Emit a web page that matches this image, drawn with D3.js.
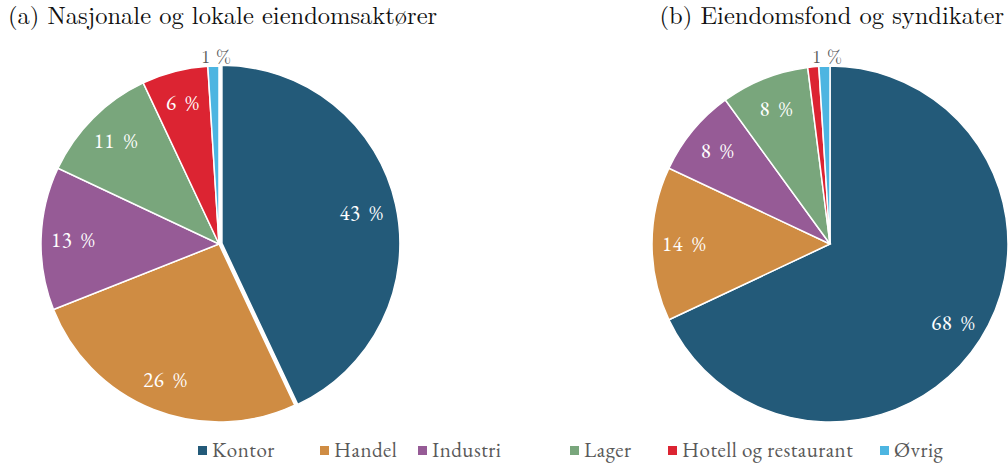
<!DOCTYPE html>
<html>
<head>
<meta charset="utf-8">
<script src="https://cdn.jsdelivr.net/npm/d3@7"></script>
<style>
  body { margin: 0; background: #fff; }
</style>
</head>
<body>
<svg id="chart" width="1008" height="467"></svg>
<script>
const categories = ["Kontor", "Handel", "Industri", "Lager", "Hotell og restaurant", "Øvrig"];
const colors = ["#235a79", "#cf8c43", "#965b96", "#79a67c", "#dc2432", "#4db5e1"];
const valuesA = [43, 26, 13, 11, 6, 1];
const valuesB = [68, 14, 8, 8, 1, 1];
// which slices carry a data label
const showLabelA = [true, true, true, true, true, true];
const showLabelB = [true, true, true, true, false, true];
const titleA = "(a) Nasjonale og lokale eiendomsaktører";
const titleB = "(b) Eiendomsfond og syndikater";

// font lists with fallbacks did not resolve in the renderer, so single names only
const TITLE_FONT = '"Latin Modern Roman"';
const BODY_FONT = '"EB Garamond"';

const svg = d3.select("#chart");
const radius = 178;
const cy = 244;

// legend x positions
const legendX = [198, 320, 418, 570, 668, 880];

function drawPie(values, showLabel, cx, explodeFirst) {
  const g = svg.append("g").attr("transform", `translate(${cx},${cy})`);
  const pie = d3.pie().sort(null).value(d => d);
  const arcs = pie(values);
  const arc = d3.arc().innerRadius(0).outerRadius(radius);
  const labelArc = d3.arc().innerRadius(radius * 0.82).outerRadius(radius * 0.82);
  const outerArc = d3.arc().innerRadius(radius + 9).outerRadius(radius + 9);

  g.selectAll("path")
    .data(arcs)
    .enter().append("path")
    .attr("d", arc)
    .attr("fill", (d, i) => colors[i])
    .attr("stroke", "#fff")
    .attr("stroke-width", 1.5)
    .attr("transform", (d, i) => {
      if (i === 0 && explodeFirst) {
        const a = (d.startAngle + d.endAngle) / 2;
        return `translate(${Math.sin(a) * explodeFirst},${-Math.cos(a) * explodeFirst})`;
      }
      return null;
    });

  g.selectAll("text.lbl")
    .data(arcs.filter((d, i) => showLabel[i]))
    .enter().append("text")
    .attr("class", "lbl")
    .attr("transform", d => {
      const small = d.data <= 1;
      const p = small ? outerArc.centroid(d) : labelArc.centroid(d);
      return `translate(${p[0] + (small ? 3 : 0)},${p[1]})`;
    })
    .attr("text-anchor", "middle")
    .attr("dy", "0.35em")
    .attr("font-family", d => d.data <= 1 ? TITLE_FONT : BODY_FONT)
    .style("font-size", d => d.data <= 1 ? "18px" : "21px")
    .style("word-spacing", d => d.data <= 1 ? null : "4px")
    .style("letter-spacing", d => d.data <= 1 ? null : "0.5px")
    .attr("fill", d => d.data <= 1 ? "#595959" : "#fff")
    .text(d => d.data + " %");
}

drawPie(valuesA, showLabelA, 219, 3);
drawPie(valuesB, showLabelB, 830, 0);

svg.append("text")
  .attr("x", 8).attr("y", 24)
  .attr("font-family", TITLE_FONT)
  .style("font-size", "24.5px")
  .attr("fill", "#111")
  .text(titleA);

svg.append("text")
  .attr("x", 1004).attr("y", 24)
  .attr("text-anchor", "end")
  .attr("font-family", TITLE_FONT)
  .style("font-size", "24.5px")
  .attr("fill", "#111")
  .text(titleB);

const legend = svg.append("g");
categories.forEach((c, i) => {
  legend.append("rect")
    .attr("x", legendX[i]).attr("y", 446)
    .attr("width", 9).attr("height", 9)
    .attr("fill", colors[i]);
  legend.append("text")
    .attr("x", legendX[i] + 14).attr("y", 457)
    .attr("font-family", BODY_FONT)
    .style("font-size", "21px")
    .style("letter-spacing", "0.5px")
    .attr("fill", "#595959")
    .text(c);
});
</script>
</body>
</html>
